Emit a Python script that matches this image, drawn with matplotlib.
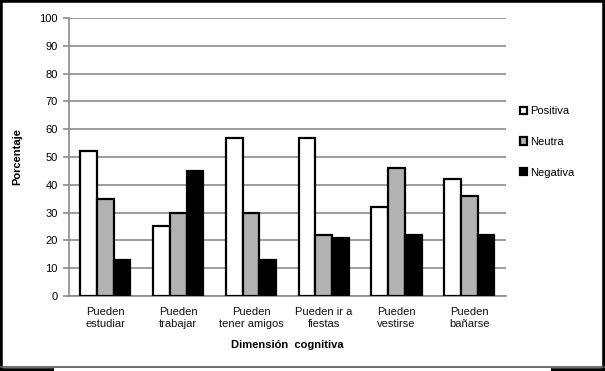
import numpy as np
import matplotlib
matplotlib.use("Agg")
import matplotlib.pyplot as plt
from matplotlib.patches import Rectangle
from matplotlib.lines import Line2D

plt.rcParams['font.family'] = ['Liberation Sans', 'DejaVu Sans']

categorias = ["Pueden\nestudiar", "Pueden\ntrabajar", "Pueden\ntener amigos",
              "Pueden ir a\nfiestas", "Pueden\nvestirse", "Pueden\nbañarse"]
positiva = [52, 25, 57, 57, 32, 42]
neutra = [35, 30, 30, 22, 46, 36]
negativa = [13, 45, 13, 21, 22, 22]
series = ["Positiva", "Neutra", "Negativa"]
colores = ["white", "#b2b2b2", "black"]

fig = plt.figure(figsize=(6.05, 3.71), dpi=100)
ax = fig.add_axes([0.114, 0.2022, 0.722, 0.7493])

x = np.arange(len(categorias))
w = 0.23
for i, (vals, name, col) in enumerate(zip([positiva, neutra, negativa], series, colores)):
    ax.bar(x + (i - 1) * w, vals, w, color=col, edgecolor="black",
           linewidth=1.6, label=name, zorder=3)

ax.set_xlim(-0.5, len(categorias) - 0.5)
ax.set_ylim(0, 100)
ax.set_yticks(range(0, 101, 10))
ax.yaxis.grid(True, color="#8c8c8c", linewidth=1.2, zorder=0)
ax.set_axisbelow(True)
for s in ["top", "right"]:
    ax.spines[s].set_visible(False)
for s in ["left", "bottom"]:
    ax.spines[s].set_color("#8c8c8c")
    ax.spines[s].set_linewidth(1.2)
ax.tick_params(axis="y", length=4, width=1.2, color="#8c8c8c", labelsize=8, pad=4)
ax.tick_params(axis="x", length=0, labelsize=8, pad=8)
ax.set_xticks(x)
ax.set_xticklabels(categorias, linespacing=1.25, color="#111111")

ax.set_ylabel("Porcentaje", fontsize=8, fontweight="bold", labelpad=12)
ax.set_xlabel("Dimensión  cognitiva", fontsize=8, fontweight="bold", labelpad=8)

ax.legend(loc="center left", bbox_to_anchor=(1.02, 0.554), frameon=False,
          fontsize=8, handlelength=0.65, handleheight=0.65, handletextpad=0.25,
          labelspacing=1.85, borderpad=0)

# frame around the whole picture
fig.patches.append(Rectangle((0.0, 0.0), 1, 1, transform=fig.transFigure,
                             fill=False, edgecolor="black", linewidth=4))
fig.lines.append(Line2D([0, 1], [0.0115, 0.0115], transform=fig.transFigure,
                        color="#555555", linewidth=1.2))
fig.patches.append(Rectangle((0.09, 0.0), 0.82, 0.0095, transform=fig.transFigure,
                             facecolor="white", edgecolor="none"))

fig.savefig("out.png", dpi=100)
